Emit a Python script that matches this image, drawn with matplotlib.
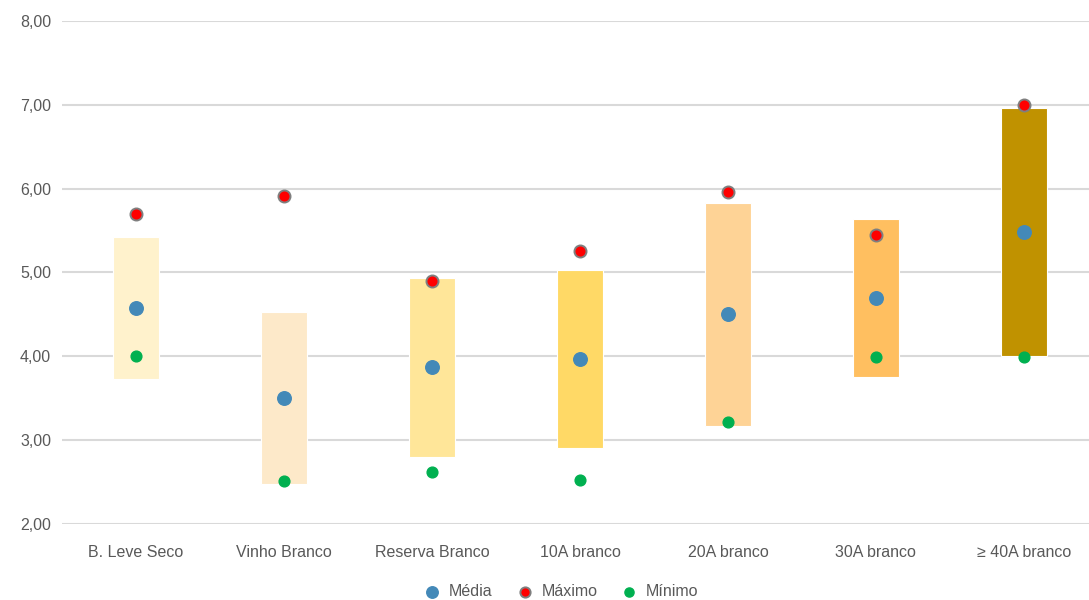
import numpy as np
import matplotlib
matplotlib.use("Agg")
import matplotlib.pyplot as plt

# Data
categories = ["B. Leve Seco", "Vinho Branco", "Reserva Branco", "10A branco",
              "20A branco", "30A branco", "\u2265 40A branco"]
bar_low = [3.73, 2.47, 2.80, 2.91, 3.17, 3.75, 4.00]
bar_high = [5.42, 4.53, 4.93, 5.03, 5.83, 5.64, 6.96]
media = [4.57, 3.50, 3.87, 3.97, 4.50, 4.69, 5.48]
maximo = [5.70, 5.91, 4.90, 5.25, 5.96, 5.45, 7.00]
minimo = [4.00, 2.51, 2.62, 2.52, 3.22, 3.99, 3.99]
bar_colors = ["#FFF2CC", "#FDE9C9", "#FFE699", "#FFD966", "#FED396", "#FFBF60", "#C09200"]

plt.rcParams['font.family'] = ['Liberation Sans', 'DejaVu Sans']
text_color = "#595959"

fig = plt.figure(figsize=(10.89, 6.0), dpi=100)
ax = fig.add_axes([0.057, 0.127, 0.943, 0.838])

x = np.arange(len(categories))
heights = np.array(bar_high) - np.array(bar_low)
ax.bar(x, heights, bottom=bar_low, width=0.31, color=bar_colors,
       edgecolor="white", linewidth=0.8, zorder=2)

ax.scatter(x, media, s=95, color="#4389B8", zorder=3, label="Média")
ax.scatter(x, maximo, s=75, color="#FF0000", edgecolors="#7F7F7F",
           linewidths=1.4, zorder=3, label="Máximo")
ax.scatter(x, minimo, s=60, color="#00B050", zorder=3, label="Mínimo")

ax.set_ylim(2, 8)
ax.set_xlim(-0.5, 6.44)
ax.set_yticks(np.arange(2, 9, 1))
ax.set_yticklabels([f"{v:.2f}".replace(".", ",") for v in range(2, 9)])
ax.set_xticks(x)
ax.set_xticklabels(categories)
ax.tick_params(axis="both", length=0, colors=text_color, labelsize=11.5)
ax.tick_params(axis="x", pad=15)
ax.tick_params(axis="y", pad=8)
ax.grid(axis="y", color="#D9D9D9", linewidth=1.5, zorder=0)
ax.set_axisbelow(True)
for s in ax.spines.values():
    s.set_visible(False)

leg = fig.legend(loc="lower center", bbox_to_anchor=(0.512, -0.022), ncol=3,
                 frameon=False, fontsize=11.5, handletextpad=0.05,
                 columnspacing=1.0, markerscale=0.85)
for t in leg.get_texts():
    t.set_color(text_color)

fig.savefig("out.png", dpi=100)
